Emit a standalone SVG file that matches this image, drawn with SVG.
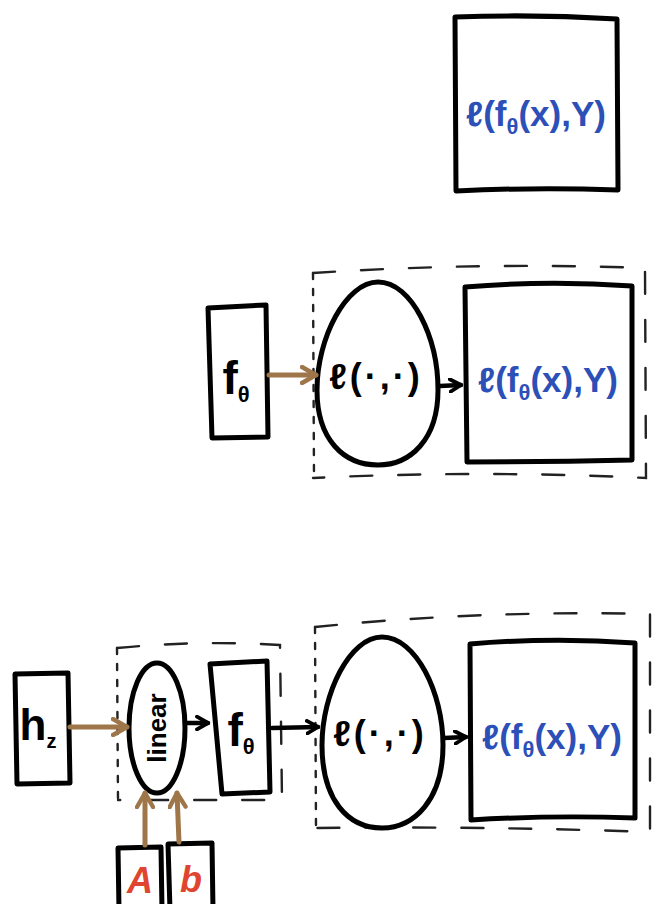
<svg xmlns="http://www.w3.org/2000/svg" width="654" height="904" viewBox="0 0 654 904">
<defs>
<style>
.box{fill:#fff;stroke:#000;stroke-width:5;stroke-linejoin:round;stroke-linecap:round}
.dash{fill:none;stroke:#222;stroke-width:2.4;stroke-dasharray:22 26;stroke-linecap:round}
.dot{fill:none;stroke:#222;stroke-width:2.4;stroke-dasharray:6 10;stroke-linecap:round}
.brown{fill:none;stroke:#9e7649;stroke-width:5;stroke-linecap:round}
.blk{fill:none;stroke:#000;stroke-width:4.5;stroke-linecap:round}
.blue{font-family:"Liberation Sans",sans-serif;font-weight:bold;fill:#2c4fb8;font-size:35px}
.lab{font-family:"Liberation Sans",sans-serif;font-weight:bold;fill:#000}
.red{font-family:"Liberation Sans",sans-serif;font-weight:bold;font-style:italic;fill:#e0452f;font-size:36px}
</style>
<marker id="ab" viewBox="0 0 10 10" refX="8" refY="5" markerWidth="4" markerHeight="4" orient="auto" markerUnits="strokeWidth"><path d="M1,1 L8,5 L1,9" fill="none" stroke="#9e7649" stroke-width="2.2" stroke-linecap="round" stroke-linejoin="round"/></marker>
<marker id="ak" viewBox="0 0 10 10" refX="8" refY="5" markerWidth="3.5" markerHeight="3.5" orient="auto" markerUnits="strokeWidth"><path d="M1,1 L8,5 L1,9" fill="none" stroke="#000" stroke-width="2.4" stroke-linecap="round" stroke-linejoin="round"/></marker>
</defs>
<rect width="654" height="904" fill="#fff"/>

<!-- top -->
<g id="loss-top">
<path class="box" d="M455,17 Q535,14 617,19 L618,190 Q536,187 456,191 Z"/>
<text class="blue" x="536" y="126" text-anchor="middle">ℓ(f<tspan font-size="22" dy="8">θ</tspan><tspan dy="-8">(x),Y)</tspan></text>
</g>

<!-- middle -->
<g id="group-mid">
<path class="dash" d="M313,273 Q480,262 645,268 L646,478 Q480,470 313,478"/>
<path class="dot" d="M313,273 L314,478"/>
</g>
<g id="f-mid">
<path class="box" d="M208,308 L266,305 L268,437 L212,438 Z"/>
<text class="lab" x="236" y="394" font-size="46" text-anchor="middle">f<tspan font-size="22" dy="8">θ</tspan></text>
</g>
<g id="l-mid">
<path class="box" d="M378,282 C412,282 438,338 438,390 C438,440 410,465 378,465 C344,465 317,440 317,390 C317,338 346,282 378,282 Z"/>
<text class="lab" x="376" y="389" font-size="36" letter-spacing="3" text-anchor="middle">ℓ(·,·)</text>
</g>
<g id="loss-mid">
<path class="box" d="M465,287 Q548,280 632,286 L632,460 Q548,462 467,462 Z"/>
<text class="blue" x="548" y="392" text-anchor="middle">ℓ(f<tspan font-size="22" dy="8">θ</tspan><tspan dy="-8">(x),Y)</tspan></text>
</g>

<!-- bottom -->
<g id="group-outer">
<path class="dash" d="M315,627 Q480,610 650,614 L650,832 Q480,826 315,828"/>
<path class="dot" d="M315,627 L316,828"/>
</g>
<g id="group-inner">
<path class="dash" d="M117,648 Q200,640 280,645 L282,800 Q200,800 118,800"/>
<path class="dot" d="M117,648 L118,800"/>
</g>
<g id="hz">
<path class="box" d="M15,674 L68,673 L70,783 L17,784 Z"/>
<text class="lab" x="38" y="740" font-size="44" text-anchor="middle">h<tspan font-size="20" dy="8">z</tspan></text>
</g>
<g id="linear">
<ellipse class="box" cx="157" cy="728" rx="28" ry="65"/>
<text class="lab" transform="translate(166,728) rotate(-90)" font-size="26" text-anchor="middle">linear</text>
</g>
<g id="f-bot">
<path class="box" d="M210,664 L267,661 L270,792 L222,794 Z"/>
<text class="lab" x="241" y="746" font-size="46" text-anchor="middle">f<tspan font-size="22" dy="8">θ</tspan></text>
</g>
<g id="l-bot">
<path class="box" d="M382,637 C416,637 443,693 443,745 C443,800 414,828 382,828 C348,828 322,800 322,745 C322,693 350,637 382,637 Z"/>
<text class="lab" x="380" y="746" font-size="36" letter-spacing="3" text-anchor="middle">ℓ(·,·)</text>
</g>
<g id="loss-bot">
<path class="box" d="M470,644 Q552,637 635,643 L635,818 Q552,815 471,820 Z"/>
<text class="blue" x="552" y="749" text-anchor="middle">ℓ(f<tspan font-size="22" dy="8">θ</tspan><tspan dy="-8">(x),Y)</tspan></text>
</g>
<g id="A">
<path class="box" d="M118,848 L161,847 L162,910 L119,910 Z"/>
<text class="red" x="140" y="893" text-anchor="middle">A</text>
</g>
<g id="b">
<path class="box" d="M168,844 L212,843 L213,910 L170,910 Z"/>
<text class="red" x="191" y="892" text-anchor="middle">b</text>
</g>

<g id="connectors">
<path class="brown" d="M269,375 L316,375" marker-end="url(#ab)"/>
<path class="blk" d="M440,386 L461,385" marker-end="url(#ak)"/>
<path class="brown" d="M70,727 L127,727" marker-end="url(#ab)"/>
<path class="blk" d="M186,723 L208,723" marker-end="url(#ak)"/>
<path class="blk" d="M272,728 L318,727" marker-end="url(#ak)"/>
<path class="blk" d="M444,738 L466,737" marker-end="url(#ak)"/>
<path class="brown" d="M145,845 L145,793" marker-end="url(#ab)"/>
<path class="brown" d="M179,842 L177,793" marker-end="url(#ab)"/>
</g>
</svg>
